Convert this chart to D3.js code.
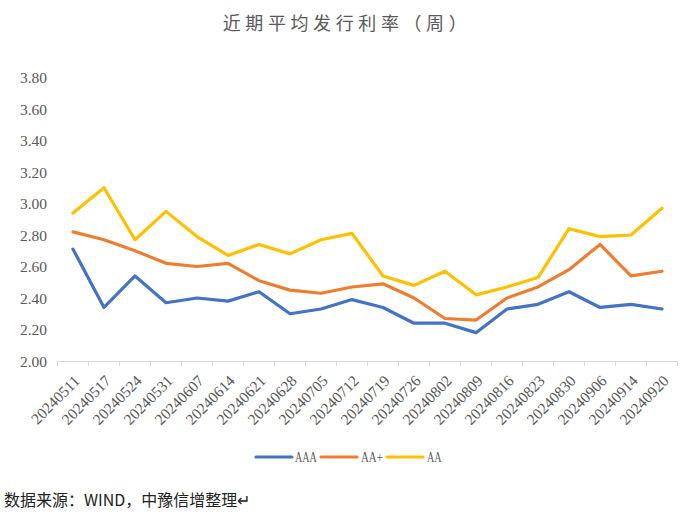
<!DOCTYPE html>
<html><head><meta charset="utf-8">
<script src="https://cdn.jsdelivr.net/npm/d3@7"></script>
<style>
html,body{margin:0;padding:0;background:#fff;}
svg{display:block;}
</style></head>
<body>
<svg id="chart" width="685" height="515"></svg>
<script>
const title = "近期平均发行利率（周）";
const source = "数据来源：WIND，中豫信增整理↵";
const categories = ["20240511","20240517","20240524","20240531","20240607","20240614","20240621","20240628","20240705","20240712","20240719","20240726","20240802","20240809","20240816","20240823","20240830","20240906","20240914","20240920"];
const seriesNames = ["AAA","AA+","AA"];
const seriesColors = ["#4472C4","#ED7D31","#FFC000"];
const aaa = [2.71,2.34,2.54,2.37,2.40,2.38,2.44,2.30,2.33,2.39,2.34,2.24,2.24,2.18,2.33,2.36,2.44,2.34,2.36,2.33];
const aaPlus = [2.82,2.77,2.70,2.62,2.60,2.62,2.51,2.45,2.43,2.47,2.49,2.40,2.27,2.26,2.40,2.47,2.58,2.74,2.54,2.57];
const aa = [2.94,3.10,2.77,2.95,2.79,2.67,2.74,2.68,2.77,2.81,2.54,2.48,2.57,2.42,2.47,2.53,2.84,2.79,2.80,2.97];
const yTicks = [2.00,2.20,2.40,2.60,2.80,3.00,3.20,3.40,3.60,3.80];

const seriesValues = [aaa, aaPlus, aa];
const svg = d3.select("#chart");
const textColor = "#595959";
const serif = "'Liberation Serif', 'DejaVu Serif', serif";
const cjk = "'Noto Sans CJK SC', 'Noto Sans', sans-serif";

const x = d3.scaleBand().domain(categories).range([57.5, 677.5]).padding(0);
const y = d3.scaleLinear().domain([2.0, 3.8]).range([361, 77.5]);

// title
svg.append("text").attr("x", 347).attr("y", 30)
  .attr("text-anchor","middle").style("font-family", cjk).style("font-size", "18px")
  .attr("letter-spacing", "4.6px").attr("fill", textColor).text(title);

// y axis
const yAxis = svg.append("g").attr("transform","translate(47,0)")
  .call(d3.axisLeft(y).tickValues(yTicks).tickSize(0).tickPadding(0).tickFormat(d3.format(".2f")));
yAxis.attr("font-family", null).attr("font-size", null);
yAxis.select(".domain").remove();
yAxis.selectAll("text").style("font-family", serif).style("font-size", "15.5px").attr("fill", textColor)
  .attr("dy","0.35em");

// x axis line
const xAxis = svg.append("g").attr("transform","translate(0,361)")
  .call(d3.axisBottom(x).tickSize(0).tickPadding(0));
xAxis.attr("font-family", null).attr("font-size", null);
xAxis.select(".domain").attr("stroke","#D9D9D9").attr("stroke-width",1);
xAxis.selectAll("text")
  .style("font-family", serif).style("font-size", "15.5px").attr("fill", textColor)
  .attr("text-anchor","end")
  .attr("transform", "translate(4,17) rotate(-45)")
  .attr("x",0).attr("y",0).attr("dy","0.35em");
// boundary tick marks
const bounds = categories.map(c => x(c)).concat([x.range()[1]]);
svg.append("g").selectAll("line").data(bounds).join("line")
  .attr("x1", d => d).attr("x2", d => d).attr("y1", 361).attr("y2", 366)
  .attr("stroke","#D9D9D9").attr("stroke-width",1);

// lines
const line = d3.line().x((d,i) => x(categories[i]) + x.bandwidth()/2).y(d => y(d));
seriesValues.forEach((vals, k) => {
  svg.append("path").datum(vals).attr("d", line)
    .attr("fill","none").attr("stroke", seriesColors[k]).attr("stroke-width", 3.2)
    .attr("stroke-linejoin","round").attr("stroke-linecap","round");
});

// legend
const legendItems = [
  {name: seriesNames[0], color: seriesColors[0], x: 256, tx: 295},
  {name: seriesNames[1], color: seriesColors[1], x: 321, tx: 361},
  {name: seriesNames[2], color: seriesColors[2], x: 387, tx: 427}
];
const lg = svg.append("g");
legendItems.forEach(it => {
  lg.append("line").attr("x1", it.x).attr("x2", it.x + 36).attr("y1", 457).attr("y2", 457)
    .attr("stroke", it.color).attr("stroke-width", 3.2).attr("stroke-linecap","round");
  lg.append("text").attr("x", it.tx).attr("y", 457).attr("dy","0.35em")
    .style("font-family", serif).style("font-size", "14px").attr("fill", textColor)
    .attr("textLength", it.name.length * 7.3).attr("lengthAdjust","spacingAndGlyphs")
    .text(it.name);
});

// source
svg.append("text").attr("x", 4).attr("y", 506).style("font-family", cjk)
  .style("font-size", "16px").attr("fill", "#222").text(source);
</script>
</body></html>
